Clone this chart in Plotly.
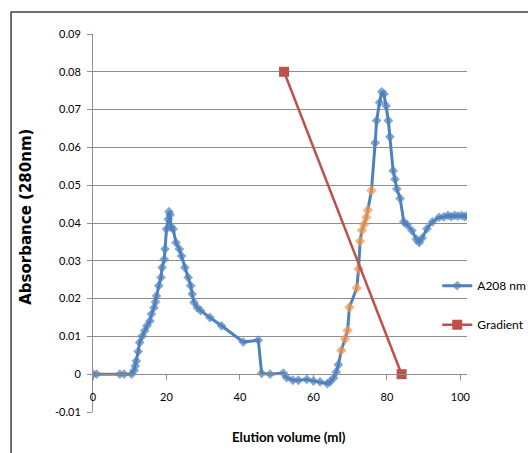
import plotly.graph_objects as go

# ---- data ----
a208_x = [0, 1, 7.3, 8.5, 10.5, 11.2, 11.5, 11.8, 12.3, 12.7, 13.4, 14.1, 14.7, 15.5, 15.9,
          16.6, 17.0, 17.3, 17.9, 18.5, 18.8, 19.4, 19.6, 20.0, 20.5, 20.7, 21.0, 21.2, 21.8,
          22.6, 23.5, 24.1, 25.0, 25.9, 26.6, 27.0, 27.5, 28.4, 29.3, 31.8, 35.0, 40.9, 45.0,
          45.9, 48.2, 51.8, 52.7, 54.4, 55.9, 58.2, 60.0, 61.8, 63.8, 64.5, 65.5, 66.2, 66.8,
          67.6, 68.6, 69.3, 69.8, 71.8, 72.3, 72.7, 73.2, 73.8, 74.4, 74.8, 75.8,
          76.8, 77.2, 78.0, 78.6, 79.2, 79.8, 80.4, 80.8, 81.7, 82.2, 82.7, 83.6, 84.6, 85.5,
          86.8, 88.0, 88.8, 89.6, 90.9, 92.4, 94.2, 95.5, 96.6, 97.5, 98.4, 99.3, 100.3, 101.1, 101.8]
a208_y = [0, 0, 0, 0, 0, 0.001, 0.0022, 0.0035, 0.006, 0.0084, 0.0101, 0.0115, 0.0128, 0.0141, 0.0159,
          0.0176, 0.0191, 0.0207, 0.0234, 0.0256, 0.0282, 0.0304, 0.0331, 0.0384, 0.0410, 0.0430, 0.0422, 0.0390, 0.0384,
          0.0348, 0.0331, 0.0313, 0.0282, 0.0256, 0.0234, 0.0212, 0.0190, 0.0176, 0.0168, 0.0150, 0.0128, 0.0085, 0.0090,
          0.0002, 0.0, 0.0003, -0.0009, -0.0016, -0.0016, -0.0014, -0.0018, -0.0020, -0.0025, -0.0020, -0.0010, 0.0006, 0.0025,
          0.0063, 0.0093, 0.0116, 0.0177, 0.0228, 0.0279, 0.0352, 0.0381, 0.0397, 0.0415, 0.0434, 0.0486,
          0.0612, 0.0671, 0.0719, 0.0747, 0.0741, 0.0710, 0.0671, 0.0628, 0.0538, 0.0516, 0.0490, 0.0465, 0.0403, 0.0395,
          0.0380, 0.0357, 0.0348, 0.0360, 0.0385, 0.0403, 0.0415, 0.0416, 0.0420, 0.0417, 0.0420, 0.0418, 0.0420, 0.0417, 0.0419]
# points highlighted in orange (x values)
highlight_x = [67.6, 68.6, 69.3, 69.8, 71.8, 72.3, 72.7, 73.2, 73.8, 74.4, 74.8, 75.8]

gradient_x = [52, 84]
gradient_y = [0.08, 0]

x_ticks = [0, 20, 40, 60, 80, 100]
y_ticks = [-0.01, 0, 0.01, 0.02, 0.03, 0.04, 0.05, 0.06, 0.07, 0.08, 0.09]
y_ticktext = ["-0.01", "0", "0.01", "0.02", "0.03", "0.04", "0.05", "0.06", "0.07", "0.08", "0.09"]

BLUE = "#4F81BD"
RED = "#C0504D"
ORANGE = "#F79646"
GRID = "#8E8E8E"

colors = [ORANGE if x in highlight_x else BLUE for x in a208_x]
sizes = [8 if x in highlight_x else 7.5 for x in a208_x]

fig = go.Figure()
fig.add_trace(go.Scatter(
    x=a208_x, y=a208_y, mode="lines+markers", name="A208 nm",
    legendgroup="a",
    line=dict(color=BLUE, width=3),
    marker=dict(symbol="diamond", color=colors, size=sizes, line=dict(width=0)),
))
fig.add_trace(go.Scatter(
    x=gradient_x, y=gradient_y, mode="lines+markers", name="Gradient",
    legendgroup="b", xaxis="x2",
    line=dict(color=RED, width=2.5),
    marker=dict(symbol="square", color=RED, size=10, line=dict(width=0)),
))

W, H = 528, 453
L, R, T, B = 93.3, 61.3, 34, 41.3
pw, ph = W - L - R, H - T - B

def px(xs):
    return (xs - L) / pw

def py(ys):
    return (H - B - ys) / ph

tick_font = dict(family="Lato", size=11, color="#000000")
x_range = [0, 101.8]

fig.update_layout(
    width=W, height=H,
    margin=dict(l=L, r=R, t=T, b=B, pad=0, autoexpand=False),
    paper_bgcolor="white", plot_bgcolor="white",
    showlegend=True,
    legend=dict(x=px(437), y=py(271), xanchor="left", yanchor="top",
                font=dict(family="Lato", size=12, color="#000000"),
                itemwidth=30, borderwidth=0,
                bgcolor="rgba(0,0,0,0)", tracegroupgap=20, traceorder="grouped"),
    xaxis=dict(range=x_range, anchor="y", showticklabels=False, ticks="",
               showgrid=False, zeroline=False, showline=False),
    xaxis2=dict(range=x_range, tickvals=x_ticks, anchor="free", position=0.1, overlaying="x",
                showgrid=False, zeroline=False, showline=True, linecolor=GRID, linewidth=1,
                ticks="outside", ticklen=5, tickcolor=GRID, tickfont=tick_font,
                ticklabelstandoff=8),
    yaxis=dict(range=[-0.01, 0.09], tickvals=y_ticks, ticktext=y_ticktext,
               showgrid=True, gridcolor=GRID, gridwidth=1, zeroline=False,
               showline=True, linecolor=GRID, linewidth=1,
               ticks="outside", ticklen=5, tickcolor=GRID, tickfont=tick_font,
               ticklabelstandoff=4),
    annotations=[
        dict(text="<b>Absorbance (280nm)</b>", xref="paper", yref="paper",
             x=px(27), y=py(217), textangle=-90, showarrow=False,
             font=dict(family="DejaVu Sans", size=15, color="#000000"),
             xanchor="center", yanchor="middle"),
        dict(text="<b>Elution volume (ml)</b>", xref="paper", yref="paper",
             x=px(289), y=py(437), showarrow=False,
             font=dict(family="Lato", size=13.3, color="#000000"),
             xanchor="center", yanchor="middle"),
    ],
    shapes=[
        dict(type="rect", xref="paper", yref="paper",
             x0=px(11.5), x1=px(545), y0=py(470), y1=py(12),
             line=dict(color="#404040", width=1.5), fillcolor="rgba(0,0,0,0)", layer="above"),
    ],
)

fig.write_html("out.html", config={"displayModeBar": False},
               post_script="document.body.style.margin='0px';document.body.style.overflow='hidden';")
